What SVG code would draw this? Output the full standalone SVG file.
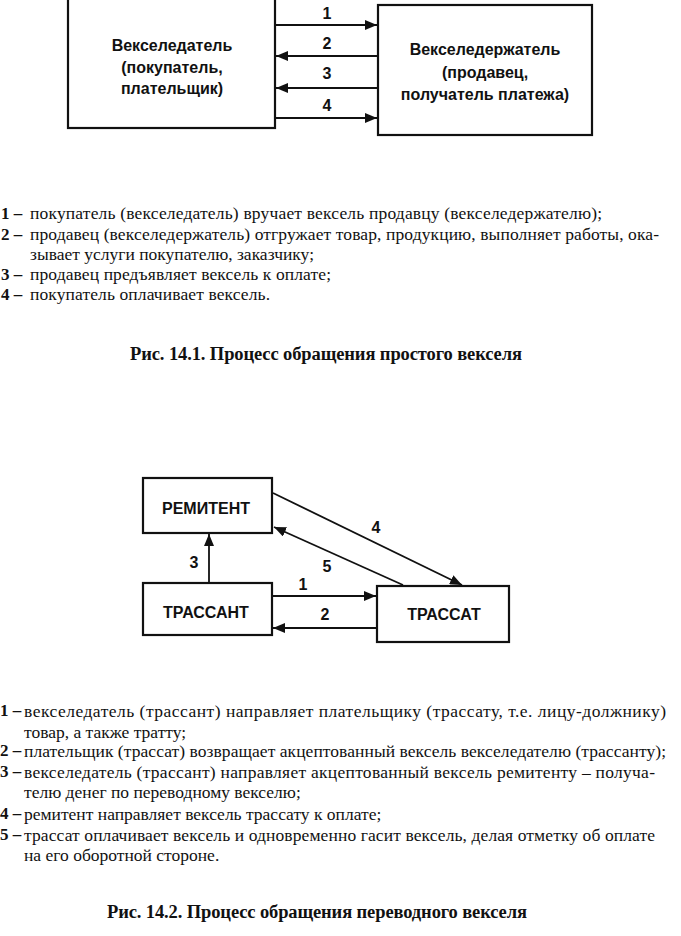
<svg xmlns="http://www.w3.org/2000/svg" width="681" height="936" viewBox="0 0 681 936">
<style>
.box{fill:#fff;stroke:#111;stroke-width:2.2}
.bl{font-family:"Liberation Sans",Arial,sans-serif;font-weight:bold;font-size:16px;fill:#111;text-anchor:middle}
.num{font-family:"Liberation Sans",Arial,sans-serif;font-weight:bold;font-size:16px;fill:#111;text-anchor:middle}
.con{stroke:#111;stroke-width:1.8;fill:none;marker-end:url(#ah)}
.tx{font-family:"Liberation Serif","Times New Roman",serif;font-size:17.5px;fill:#111}
.nb{font-family:"Liberation Serif","Times New Roman",serif;font-size:17px;font-weight:bold;fill:#111}
.cap{font-family:"Liberation Serif","Times New Roman",serif;font-size:18.5px;font-weight:bold;fill:#111}
</style>
<defs>
<marker id="ah" viewBox="0 0 12 10" refX="12" refY="5" markerWidth="12" markerHeight="10" markerUnits="userSpaceOnUse" orient="auto">
<path d="M0,0 L12,5 L0,10 z" fill="#111"/>
</marker>
</defs>
<rect width="681" height="936" fill="#fff"/>

<!-- Figure 14.1 -->
<g id="node-vekseledatel">
<rect class="box" x="68" y="-5" width="207" height="133"/>
<text class="bl" x="172" y="51">Векселедатель</text>
<text class="bl" x="172" y="73">(покупатель,</text>
<text class="bl" x="172" y="94">плательщик)</text>
</g>
<g id="node-vekselederzhatel">
<rect class="box" x="378" y="5" width="214" height="130"/>
<text class="bl" x="485" y="55">Векселедержатель</text>
<text class="bl" x="485" y="78">(продавец,</text>
<text class="bl" x="485" y="100">получатель платежа)</text>
</g>
<g id="connectors-1">
<line class="con" x1="276" y1="25" x2="377" y2="25"/>
<line class="con" x1="377" y1="56" x2="276" y2="56"/>
<line class="con" x1="377" y1="88" x2="276" y2="88"/>
<line class="con" x1="276" y1="118" x2="377" y2="118"/>
<text class="num" x="327" y="19">1</text>
<text class="num" x="327" y="49">2</text>
<text class="num" x="327" y="79">3</text>
<text class="num" x="327" y="111">4</text>
</g>
<g id="legend-1">
<text class="nb" x="1" y="219">1 –</text>
<text class="tx" x="30" y="219" textLength="572" lengthAdjust="spacing">покупатель (векселедатель) вручает вексель продавцу (векселедержателю);</text>
<text class="nb" x="1" y="240">2 –</text>
<text class="tx" x="30" y="240" textLength="629" lengthAdjust="spacing">продавец (векселедержатель) отгружает товар, продукцию, выполняет работы, ока-</text>
<text class="tx" x="30" y="260">зывает услуги покупателю, заказчику;</text>
<text class="nb" x="1" y="280">3 –</text>
<text class="tx" x="30" y="280" textLength="301" lengthAdjust="spacing">продавец предъявляет вексель к оплате;</text>
<text class="nb" x="1" y="300">4 –</text>
<text class="tx" x="30" y="300" textLength="240" lengthAdjust="spacing">покупатель оплачивает вексель.</text>
</g>
<text class="cap" x="130" y="360" textLength="392" lengthAdjust="spacing">Рис. 14.1. Процесс обращения простого векселя</text>

<!-- Figure 14.2 -->
<g id="node-remitent">
<rect class="box" x="143" y="478" width="129" height="55"/>
<text class="bl" x="206" y="514">РЕМИТЕНТ</text>
</g>
<g id="node-trassant">
<rect class="box" x="143" y="583" width="129" height="52"/>
<text class="bl" x="206" y="618">ТРАССАНТ</text>
</g>
<g id="node-trassat">
<rect class="box" x="377" y="586" width="132" height="56"/>
<text class="bl" x="444" y="620">ТРАССАТ</text>
</g>
<g id="connectors-2">
<line class="con" x1="209" y1="583" x2="209" y2="534"/>
<line class="con" x1="273" y1="596" x2="376" y2="596"/>
<line class="con" x1="377" y1="628" x2="273" y2="628"/>
<line class="con" x1="273" y1="493" x2="462" y2="585"/>
<line class="con" x1="403" y1="585" x2="274" y2="527"/>
<text class="num" x="303" y="590">1</text>
<text class="num" x="325" y="620">2</text>
<text class="num" x="194" y="568">3</text>
<text class="num" x="376" y="533">4</text>
<text class="num" x="327" y="572">5</text>
</g>
<g id="legend-2">
<text class="nb" x="0" y="716" font-size="15">1 –</text>
<text class="tx" x="24" y="717" textLength="642" lengthAdjust="spacing">векселедатель (трассант) направляет плательщику (трассату, т.е. лицу-должнику)</text>
<text class="tx" x="24" y="738">товар, а также тратту;</text>
<text class="nb" x="0" y="756" font-size="15">2 –</text>
<text class="tx" x="24" y="757" textLength="642" lengthAdjust="spacing">плательщик (трассат) возвращает акцептованный вексель векселедателю (трассанту);</text>
<text class="nb" x="0" y="777" font-size="15">3 –</text>
<text class="tx" x="24" y="778" textLength="631" lengthAdjust="spacing">векселедатель (трассант) направляет акцептованный вексель ремитенту – получа-</text>
<text class="tx" x="24" y="798">телю денег по переводному векселю;</text>
<text class="nb" x="0" y="819" font-size="15">4 –</text>
<text class="tx" x="24" y="820">ремитент направляет вексель трассату к оплате;</text>
<text class="nb" x="0" y="840" font-size="15">5 –</text>
<text class="tx" x="24" y="841" textLength="631" lengthAdjust="spacing">трассат оплачивает вексель и одновременно гасит вексель, делая отметку об оплате</text>
<text class="tx" x="24" y="861">на его оборотной стороне.</text>
</g>
<text class="cap" x="107" y="918" textLength="420" lengthAdjust="spacing">Рис. 14.2. Процесс обращения переводного векселя</text>
</svg>
